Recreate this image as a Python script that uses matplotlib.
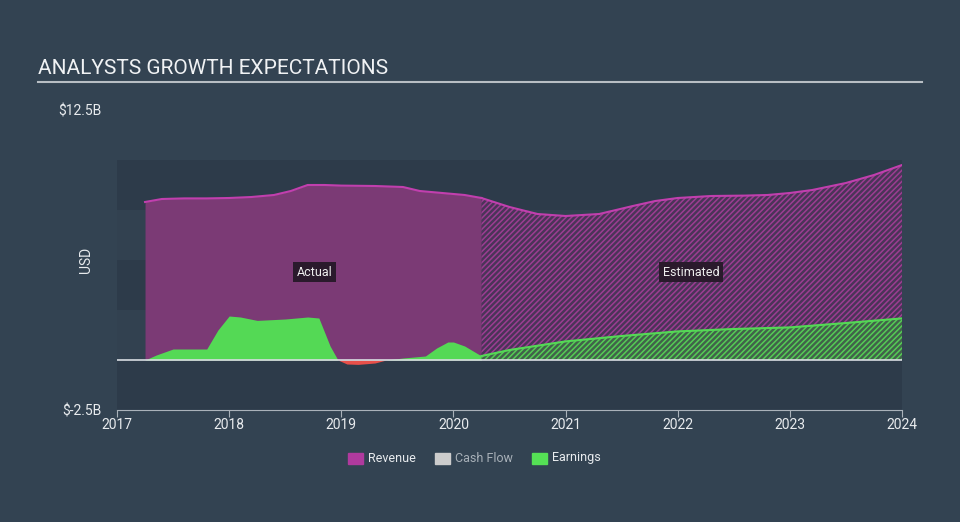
import matplotlib.pyplot as plt
import numpy as np

plt.rcParams['font.family'] = ['Roboto', 'DejaVu Sans']

# значения (млрд $)
rev_act_x = [2017.25, 2017.4, 2017.6, 2017.8, 2018.0, 2018.2, 2018.4, 2018.55, 2018.7, 2018.85,
             2019.0, 2019.3, 2019.55, 2019.7, 2019.9, 2020.1, 2020.25]
rev_act_y = [7.9, 8.05, 8.08, 8.08, 8.1, 8.15, 8.25, 8.45, 8.75, 8.75,
             8.72, 8.7, 8.65, 8.45, 8.35, 8.25, 8.1]
rev_est_x = [2020.25, 2020.5, 2020.75, 2021.0, 2021.3, 2021.6, 2021.8, 2022.0, 2022.3,
             2022.6, 2022.8, 2023.0, 2023.2, 2023.5, 2023.75, 2024.0]
rev_est_y = [8.1, 7.65, 7.3, 7.2, 7.3, 7.7, 7.95, 8.1, 8.2, 8.22, 8.25, 8.35, 8.5, 8.85, 9.25, 9.75]

earn_act_x = [2017.25, 2017.35, 2017.5, 2017.65, 2017.8, 2017.9, 2018.0, 2018.1, 2018.25,
              2018.5, 2018.7, 2018.8, 2018.9, 2018.97]
earn_act_y = [0.0, 0.25, 0.55, 0.55, 0.55, 1.5, 2.2, 2.15, 1.98, 2.05, 2.15, 2.1, 0.7, 0.0]
neg_x = [2018.97, 2019.05, 2019.15, 2019.3, 2019.4]
neg_y = [0.0, -0.2, -0.22, -0.15, 0.0]
earn_act2_x = [2019.4, 2019.55, 2019.75, 2019.85, 2019.95, 2020.0, 2020.1, 2020.25]
earn_act2_y = [0.0, 0.1, 0.2, 0.6, 0.9, 0.9, 0.7, 0.2]
earn_est_x = [2020.25, 2020.5, 2021.0, 2021.5, 2022.0, 2022.5, 2023.0, 2023.5, 2024.0]
earn_est_y = [0.2, 0.5, 0.93, 1.2, 1.43, 1.55, 1.63, 1.85, 2.08]

bg = '#334352'
rev_line = '#c13fae'
rev_fill = '#7b3a75'
green = '#54d955'

fig = plt.figure(figsize=(9.6, 5.22), dpi=100)
fig.patch.set_facecolor(bg)
ax = fig.add_axes([117/960, 112/522, 785/960, 300/522])
ax.set_facecolor('none')
ax.set_xlim(2017, 2024)
ax.set_ylim(-2.5, 12.5)

# полосы фона
band_cols = ['#2d3b4a', '#324150', '#2d3b4a', '#324150', '#2d3b4a']
for i, c in enumerate(band_cols):
    ax.axhspan(-2.5 + i * 2.5, i * 2.5, color=c, lw=0, zorder=0)

# выручка
plt.rcParams['hatch.linewidth'] = 1.1
ax.fill_between(rev_act_x, 0, rev_act_y, color=rev_fill, lw=0, zorder=1)
ax.fill_between(rev_est_x, 0, rev_est_y, facecolor='#4a3458', edgecolor='#9c3d92',
                hatch='//////', lw=0, zorder=1)
ax.plot(rev_act_x, rev_act_y, color=rev_line, lw=1.5, zorder=3)
ax.plot(rev_est_x, rev_est_y, color=rev_line, lw=1.5, zorder=3)

# прибыль
ax.fill_between(earn_act_x, 0, earn_act_y, color=green, lw=0, zorder=2)
ax.fill_between(earn_act2_x, 0, earn_act2_y, color=green, lw=0, zorder=2)
ax.fill_between(neg_x, 0, neg_y, color='#e8504a', lw=0, zorder=2)
ax.fill_between(earn_est_x, 0, earn_est_y, facecolor='#41624a', edgecolor='#55cc55',
                hatch='//////', lw=0, zorder=2)
ax.plot(earn_est_x, earn_est_y, color=green, lw=1.5, zorder=3)

ax.axhline(0, color='#d8dde2', lw=1.2, zorder=4)

for s in ['top', 'right', 'left']:
    ax.spines[s].set_visible(False)
ax.spines['bottom'].set_color('#aab2ba')
ax.spines['bottom'].set_position(('data', -2.5))
ax.set_xticks(range(2017, 2025))
ax.set_xticklabels([str(y) for y in range(2017, 2025)])
ax.tick_params(axis='x', colors='#aab2ba', labelcolor='#e8ebee', labelsize=10, length=5, pad=1)
ax.set_yticks([-2.5, 12.5])
ax.set_yticklabels(['$-2.5B', '$12.5B'])
ax.tick_params(axis='y', length=0, labelcolor='#e8ebee', labelsize=10, pad=11)
ax.set_ylabel('USD', color='#e8ebee', fontsize=10)
ax.yaxis.set_label_coords(-0.03, 0.5)

box = dict(facecolor='#2a1a2c', edgecolor='none', pad=2.5)
ax.text(2018.76, 4.4, 'Actual', color='#eeeeee', fontsize=9, ha='center', va='center', bbox=box, zorder=5)
ax.text(2022.12, 4.4, 'Estimated', color='#eeeeee', fontsize=9, ha='center', va='center', bbox=box, zorder=5)

# заголовок
fig.text(38/960, 1 - 69/522, 'ANALYSTS GROWTH EXPECTATIONS', color='#f0f2f4', fontsize=15, va='center')
fig.add_artist(plt.Line2D([38/960, 922/960], [1 - 81.5/522] * 2, color='#b8bec4', lw=1.5))

# легенда
items = [('Revenue', '#b03a9e', '#e8ebee', 348), ('Cash Flow', '#cccccc', '#a8b0b8', 435), ('Earnings', '#55e055', '#e8ebee', 532)]
for name, col, tc, x0 in items:
    fig.patches.append(plt.Rectangle((x0/960, 1 - 464/522), 15/960, 11/522, transform=fig.transFigure,
                                     color=col, figure=fig))
    fig.text((x0 + 20)/960, 1 - 458/522, name, color=tc, fontsize=9, va='center')

fig.savefig('out.png', dpi=100, facecolor=bg)
